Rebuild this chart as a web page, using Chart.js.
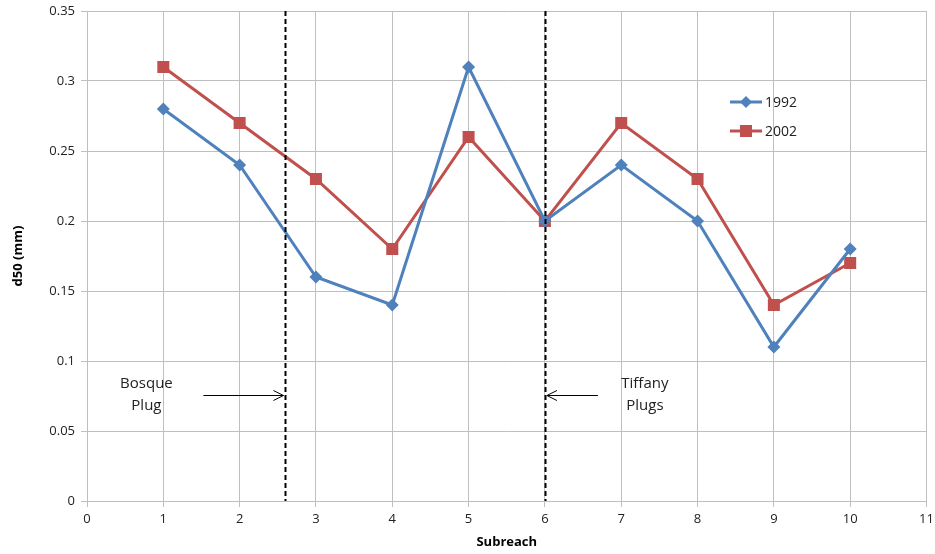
<!DOCTYPE html>
<html>
<head>
<meta charset="utf-8">
<script src="https://cdn.jsdelivr.net/npm/chart.js@4"></script>
<style>
  html, body { margin: 0; padding: 0; background: #fff; }
  #wrap { width: 935px; height: 554px; }
</style>
</head>
<body>
<div id="wrap"><canvas id="chart"></canvas></div>
<script>
// data
const subreach = [1, 2, 3, 4, 5, 6, 7, 8, 9, 10];
const d50_1992 = [0.28, 0.24, 0.16, 0.14, 0.31, 0.20, 0.24, 0.20, 0.11, 0.18];
const d50_2002 = [0.31, 0.27, 0.23, 0.18, 0.26, 0.20, 0.27, 0.23, 0.14, 0.17];
const seriesNames = ["1992", "2002"];
const plugPositions = [2.6, 6];
const plugLabels = [["Bosque", "Plug"], ["Tiffany", "Plugs"]];

const blue = "#4f81bd";
const red = "#c0504d";
const gridColor = "#bfbfbf";
const font = "'Open Sans', 'Noto Sans', sans-serif";

function toPoints(xs, ys) {
    return xs.map((x, i) => ({ x: x, y: ys[i] }));
}

// dashed plug lines, arrows, labels and legend
const overlay = {
    id: "overlay",
    afterDatasetsDraw(chart) {
        const ctx = chart.ctx;
        const xs = chart.scales.x, ys = chart.scales.y;
        const area = chart.chartArea;
        ctx.save();

        // vertical dashed lines
        ctx.strokeStyle = "#000";
        ctx.lineWidth = 2;
        ctx.setLineDash([5, 3]);
        plugPositions.forEach((p) => {
            const px = Math.round(xs.getPixelForValue(p)) + 0.5;
            ctx.beginPath();
            ctx.moveTo(px, area.top);
            ctx.lineTo(px, area.bottom);
            ctx.stroke();
        });
        ctx.setLineDash([]);

        // arrows
        const ay = Math.round(ys.getPixelForValue(0.0758)) + 0.5;
        ctx.lineWidth = 1;
        const drawArrow = (x1, x2) => {
            ctx.beginPath();
            ctx.moveTo(x1, ay);
            ctx.lineTo(x2, ay);
            const dir = x2 > x1 ? -1 : 1;
            ctx.moveTo(x2 + dir * 10, ay - 5);
            ctx.lineTo(x2, ay);
            ctx.lineTo(x2 + dir * 10, ay + 5);
            ctx.stroke();
        };
        const p0 = xs.getPixelForValue(plugPositions[0]);
        const p1 = xs.getPixelForValue(plugPositions[1]);
        drawArrow(p0 - 82, p0 - 2);
        drawArrow(p1 + 53, p1 + 2);

        // labels
        ctx.fillStyle = "#222";
        ctx.font = "15px " + font;
        ctx.textAlign = "center";
        ctx.textBaseline = "middle";
        const ly = ys.getPixelForValue(0.0758);
        plugLabels[0].forEach((t, i) => ctx.fillText(t, p0 - 139, ly - 11 + i * 22));
        plugLabels[1].forEach((t, i) => ctx.fillText(t, p1 + 100, ly - 11 + i * 22));

        // legend
        const lx = xs.left + 643;
        const colors = [blue, red];
        ctx.font = "14px " + font;
        ctx.textAlign = "left";
        seriesNames.forEach((name, i) => {
            const y = 102 + i * 29;
            ctx.strokeStyle = colors[i];
            ctx.lineWidth = 3;
            ctx.beginPath();
            ctx.moveTo(lx, y);
            ctx.lineTo(lx + 32, y);
            ctx.stroke();
            ctx.fillStyle = colors[i];
            if (i === 0) {
                ctx.beginPath();
                ctx.moveTo(lx + 16, y - 6);
                ctx.lineTo(lx + 22, y);
                ctx.lineTo(lx + 16, y + 6);
                ctx.lineTo(lx + 10, y);
                ctx.closePath();
                ctx.fill();
            } else {
                ctx.fillRect(lx + 10, y - 6, 12, 12);
            }
            ctx.fillStyle = "#222";
            ctx.fillText(name, lx + 35, y + 1);
        });

        ctx.restore();
    }
};

const ctx = document.getElementById("chart").getContext("2d");
new Chart(ctx, {
    type: "line",
    data: {
        datasets: [
            {
                label: seriesNames[0],
                data: toPoints(subreach, d50_1992),
                borderColor: blue,
                backgroundColor: blue,
                borderWidth: 3,
                pointStyle: "rectRot",
                pointRadius: 6.5,
                pointHoverRadius: 6.5,
                pointBorderWidth: 0
            },
            {
                label: seriesNames[1],
                data: toPoints(subreach, d50_2002),
                borderColor: red,
                backgroundColor: red,
                borderWidth: 3,
                pointStyle: "rect",
                pointRadius: 8.5,
                pointHoverRadius: 8.5,
                pointBorderWidth: 0
            }
        ]
    },
    options: {
        responsive: true,
        maintainAspectRatio: false,
        animation: false,
        layout: { padding: { left: 0, right: 6, top: 11, bottom: 0 } },
        plugins: {
            legend: { display: false },
            tooltip: { enabled: false }
        },
        scales: {
            x: {
                type: "linear",
                min: 0,
                max: 11,
                ticks: { stepSize: 1, color: "#222", font: { family: font, size: 13 }, padding: 4 },
                grid: { color: gridColor, tickLength: 6 },
                border: { color: gridColor },
                title: { display: true, text: "Subreach", color: "#000", font: { family: font, size: 13, weight: "bold" }, padding: { top: 6 } },
                afterFit(scale) {
                    scale.height = 53;
                    scale.paddingLeft = 0;
                    scale.paddingRight = 0;
                }
            },
            y: {
                min: 0,
                max: 0.35,
                ticks: {
                    stepSize: 0.05,
                    color: "#222",
                    font: { family: font, size: 13 },
                    padding: 6,
                    callback: (v) => String(Math.round(v * 100) / 100)
                },
                grid: { color: gridColor, tickLength: 6 },
                border: { color: gridColor },
                title: { display: true, text: "d50 (mm)", color: "#000", font: { family: font, size: 13, weight: "bold" }, padding: { top: 10, bottom: 4 } },
                afterFit(scale) {
                    scale.width = 87;
                    scale.paddingTop = 0;
                    scale.paddingBottom = 0;
                }
            }
        }
    },
    plugins: [overlay]
});
</script>
</body>
</html>
